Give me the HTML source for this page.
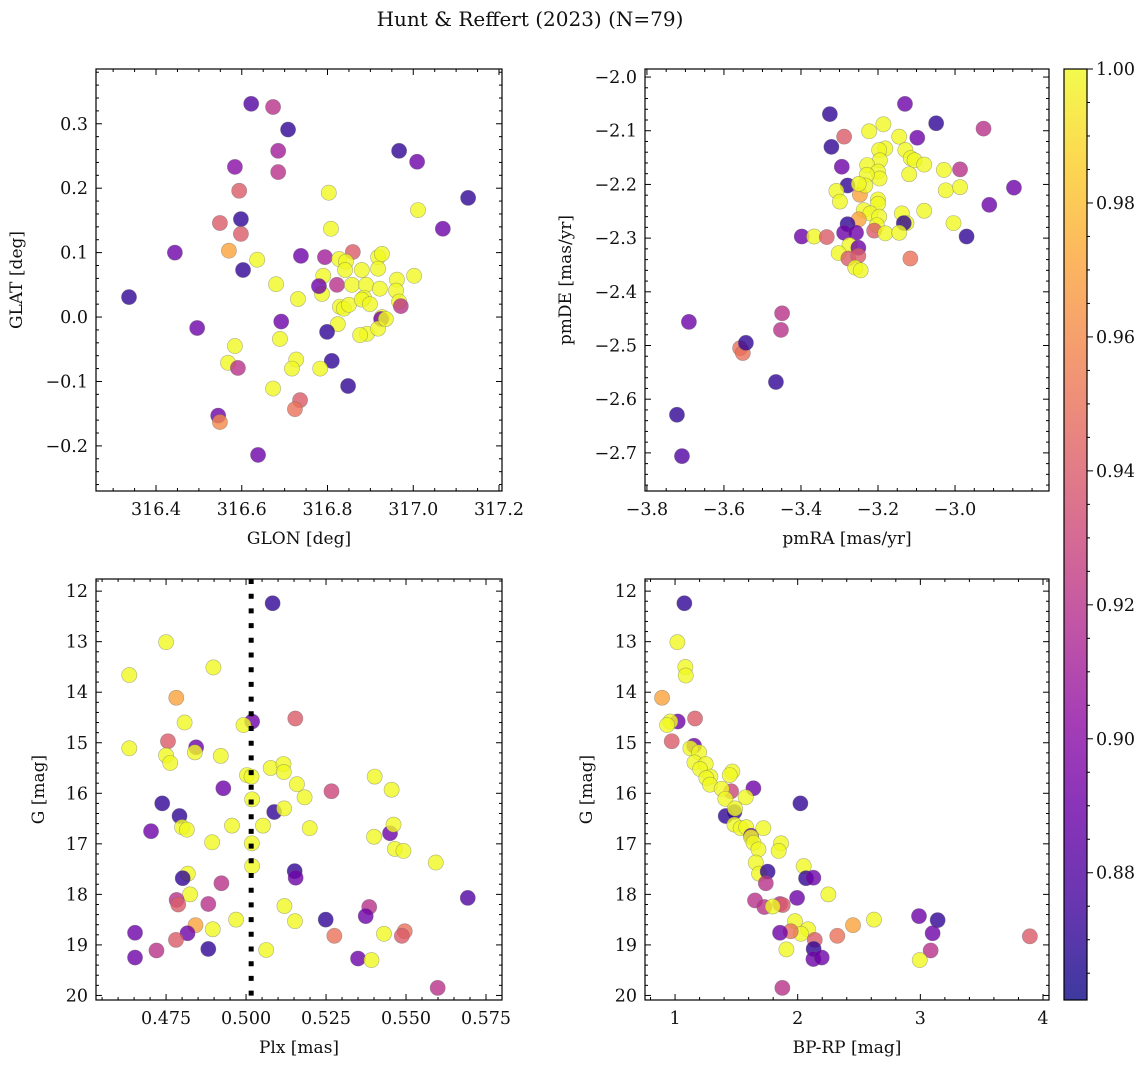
<!DOCTYPE html>
<html><head><meta charset="utf-8"><title>Hunt & Reffert (2023)</title>
<style>
body{margin:0;background:#fff;}
svg text{font-family:"DejaVu Serif","Liberation Serif",serif;fill:#111;}
</style></head>
<body>
<svg id="fig" width="1148" height="1068" viewBox="0 0 1148 1068" xmlns="http://www.w3.org/2000/svg">
<defs>
<linearGradient id="plasma" x1="0" y1="1" x2="0" y2="0">
<stop offset="0" stop-color="#0d0887"/><stop offset="0.1" stop-color="#41049d"/><stop offset="0.2" stop-color="#6a00a8"/><stop offset="0.3" stop-color="#8f0da4"/><stop offset="0.4" stop-color="#b12a90"/><stop offset="0.5" stop-color="#cc4778"/><stop offset="0.6" stop-color="#e16462"/><stop offset="0.7" stop-color="#f2844b"/><stop offset="0.8" stop-color="#fca636"/><stop offset="0.9" stop-color="#fcce25"/><stop offset="1" stop-color="#f0f921"/>
</linearGradient>
</defs>
<text x="530" y="26" font-size="20" text-anchor="middle">Hunt &amp; Reffert (2023) (N=79)</text>
</svg>
<script>
// ---- data: panel 1 (GLON/GLAT)
const glon = [316.337,316.444,316.496,316.622,316.673,316.584,316.685,316.594,316.685,316.708,316.549,316.598,316.598,316.570,316.603,316.636,316.738,316.680,316.692,316.731,316.689,316.584,316.568,316.591,316.727,316.717,316.673,316.736,316.724,316.545,316.549,316.638,316.967,317.009,317.128,317.069,317.011,316.803,316.808,316.859,316.794,316.827,316.843,316.841,316.880,316.790,316.822,316.857,316.890,316.918,316.927,316.918,316.962,317.002,316.787,316.780,316.885,316.922,316.960,316.829,316.838,316.850,316.880,316.899,316.927,316.892,316.967,316.971,316.925,316.824,316.799,316.876,316.918,316.936,316.810,316.783,316.848];
const glat = [0.031,0.100,-0.017,0.331,0.326,0.233,0.258,0.196,0.225,0.291,0.146,0.152,0.129,0.103,0.073,0.089,0.095,0.051,-0.007,0.028,-0.034,-0.045,-0.071,-0.079,-0.066,-0.080,-0.111,-0.129,-0.143,-0.153,-0.163,-0.214,0.258,0.241,0.185,0.137,0.166,0.193,0.137,0.101,0.093,0.090,0.086,0.073,0.073,0.064,0.050,0.050,0.050,0.093,0.098,0.075,0.058,0.064,0.036,0.048,0.030,0.044,0.041,0.016,0.013,0.019,0.027,0.020,0.000,-0.026,0.024,0.017,-0.003,-0.011,-0.023,-0.028,-0.018,-0.003,-0.068,-0.080,-0.107];
const prob1 = [0.87,0.89,0.89,0.88,0.92,0.90,0.91,0.94,0.92,0.87,0.94,0.87,0.94,0.97,0.87,1,0.89,1,0.89,1,1,1,1,0.92,1,1,1,0.94,0.95,0.89,0.96,0.89,0.87,0.89,0.87,0.89,1,1,1,0.94,0.91,1,1,1,1,1,0.92,1,1,1,1,1,1,1,1,0.89,1,1,1,1,1,1,1,1,1,1,1,0.92,0.89,1,0.87,1,1,1,0.87,1,0.87];
// ---- data: panel 2 (proper motions)
const pmra = [-3.325,-3.130,-3.049,-2.926,-3.288,-3.321,-3.098,-3.223,-3.186,-3.145,-3.129,-3.181,-3.197,-3.115,-3.105,-3.080,-3.294,-2.987,-3.029,-3.195,-3.228,-3.200,-3.196,-3.119,-3.229,-3.279,-3.308,-3.299,-3.247,-3.233,-3.250,-3.024,-2.987,-2.847,-2.911,-3.200,-3.200,-3.237,-3.220,-3.197,-3.080,-3.138,-3.126,-3.250,-3.133,-3.279,-3.004,-3.203,-3.210,-3.288,-3.257,-3.398,-3.366,-3.333,-3.181,-3.145,-2.970,-3.274,-3.251,-3.302,-3.277,-3.251,-3.259,-3.245,-3.116,-3.465,-3.722,-3.709,-3.691,-3.558,-3.551,-3.543,-3.449,-3.452];
const pmde = [-2.069,-2.050,-2.086,-2.096,-2.111,-2.130,-2.113,-2.101,-2.088,-2.111,-2.136,-2.133,-2.136,-2.151,-2.155,-2.163,-2.167,-2.172,-2.173,-2.155,-2.164,-2.176,-2.189,-2.181,-2.182,-2.202,-2.212,-2.232,-2.219,-2.202,-2.199,-2.211,-2.205,-2.206,-2.238,-2.228,-2.236,-2.248,-2.254,-2.260,-2.249,-2.254,-2.272,-2.265,-2.272,-2.274,-2.272,-2.276,-2.286,-2.290,-2.290,-2.297,-2.297,-2.298,-2.291,-2.290,-2.297,-2.313,-2.318,-2.328,-2.338,-2.333,-2.355,-2.360,-2.338,-2.568,-2.629,-2.706,-2.456,-2.505,-2.514,-2.495,-2.440,-2.471];
const prob2 = [0.87,0.89,0.87,0.92,0.94,0.87,0.89,1,1,1,1,1,1,1,1,1,0.89,0.92,1,1,1,1,1,1,1,0.87,1,1,0.97,1,1,1,1,0.89,0.89,1,1,1,1,1,1,1,1,0.97,0.87,0.87,1,1,0.94,0.89,0.89,0.89,1,0.94,1,1,0.87,1,0.89,1,0.94,0.94,1,1,0.95,0.87,0.87,0.88,0.89,0.95,0.95,0.87,0.92,0.92];
// ---- data: panel 3 (Plx vs G)
const plx = [0.5083,0.4750,0.4898,0.4635,0.4782,0.4808,0.5019,0.4992,0.5154,0.4756,0.4635,0.4844,0.4840,0.4750,0.4763,0.4921,0.5077,0.5117,0.5118,0.5003,0.5017,0.5159,0.5402,0.5183,0.5267,0.5455,0.4929,0.5019,0.4738,0.4792,0.5088,0.5119,0.4800,0.4815,0.4703,0.4956,0.5053,0.5199,0.5450,0.5461,0.5400,0.4894,0.5018,0.5465,0.5492,0.5593,0.5019,0.5152,0.5155,0.4818,0.4802,0.4923,0.4825,0.5693,0.4783,0.4788,0.4882,0.5120,0.5385,0.5374,0.5249,0.4969,0.5153,0.4842,0.4896,0.4653,0.4817,0.5276,0.5431,0.5496,0.5487,0.4781,0.4882,0.4720,0.5063,0.4653,0.5350,0.5392,0.5599];
const g3 = [12.24,13.01,13.51,13.66,14.11,14.60,14.58,14.65,14.52,14.97,15.11,15.09,15.19,15.25,15.40,15.26,15.50,15.42,15.58,15.64,15.67,15.82,15.67,16.08,15.96,15.93,15.90,16.12,16.20,16.45,16.37,16.30,16.67,16.72,16.75,16.64,16.64,16.69,16.79,16.62,16.86,16.97,16.99,17.10,17.14,17.37,17.44,17.54,17.67,17.59,17.68,17.78,18.00,18.07,18.11,18.20,18.19,18.23,18.25,18.43,18.50,18.50,18.53,18.61,18.69,18.76,18.77,18.82,18.78,18.73,18.82,18.90,19.08,19.11,19.10,19.25,19.27,19.30,19.85];
const prob3 = [0.87,1,1,1,0.97,1,0.89,1,0.94,0.94,1,0.89,1,1,1,1,1,1,1,1,1,1,1,1,0.93,1,0.89,1,0.87,0.87,0.87,1,1,1,0.89,1,1,1,0.89,1,1,1,1,1,1,1,1,0.87,0.89,1,0.87,0.92,1,0.88,0.92,0.94,0.92,1,0.92,0.89,0.87,1,1,0.97,1,0.89,0.89,0.95,1,0.95,0.94,0.94,0.87,0.92,1,0.89,0.89,1,0.92];
// ---- data: panel 4 (BP-RP vs G)
const bprp = [1.076,1.019,1.084,1.087,0.894,1.022,0.962,0.935,1.163,0.973,1.155,1.125,1.196,1.158,1.250,1.204,1.288,1.255,1.285,1.467,1.446,1.457,1.639,1.380,1.410,1.576,2.022,1.413,1.484,1.489,1.484,1.535,1.580,1.620,1.720,1.620,1.640,1.680,1.864,1.845,1.658,1.685,1.755,1.740,2.049,2.068,2.128,2.250,1.995,1.652,1.728,1.856,1.878,1.796,2.622,2.989,3.141,2.451,1.978,2.084,2.027,1.943,2.323,2.139,1.856,3.100,1.908,2.130,2.128,2.196,3.084,2.995,1.875,3.893];
const g4 = [12.24,13.01,13.50,13.67,14.11,14.58,14.58,14.65,14.52,14.97,15.06,15.11,15.19,15.39,15.42,15.52,15.67,15.70,15.83,15.57,15.64,15.96,15.90,15.91,16.11,16.08,16.20,16.45,16.37,16.30,16.62,16.69,16.67,16.84,16.69,16.87,16.98,17.11,16.99,17.14,17.37,17.59,17.55,17.78,17.44,17.68,17.67,18.00,18.07,18.12,18.25,18.19,18.21,18.24,18.50,18.43,18.51,18.61,18.53,18.69,18.78,18.73,18.82,18.90,18.76,18.77,19.09,19.08,19.28,19.25,19.11,19.30,19.85,18.83];
const prob4 = [0.87,1,1,1,0.97,0.89,1,1,0.94,0.94,0.89,1,1,1,1,1,1,1,1,1,1,0.93,0.89,1,1,1,0.87,0.87,0.87,1,1,1,1,0.89,1,1,1,1,1,1,1,1,0.87,0.92,1,0.87,0.89,1,0.89,0.92,0.92,0.92,0.94,1,1,0.89,0.87,0.97,1,1,1,0.95,0.95,0.94,0.89,0.89,1,0.87,0.89,0.89,0.92,1,0.92,0.94];
// ---- tick labels
const p1xTicks = [316.4,316.6,316.8,317.0,317.2];
const p1yTicks = [-0.2,-0.1,0.0,0.1,0.2,0.3];
const p2xTicks = [-3.8,-3.6,-3.4,-3.2,-3.0];
const p2yTicks = [-2.7,-2.6,-2.5,-2.4,-2.3,-2.2,-2.1,-2.0];
const p3xTicks = [0.475,0.500,0.525,0.550,0.575];
const gTicks = [12,13,14,15,16,17,18,19,20];
const p4xTicks = [1,2,3,4];
const cbTicks = [0.88,0.90,0.92,0.94,0.96,0.98,1.00];
const plxCut = [0.5016];

const NS = "http://www.w3.org/2000/svg";
const svg = document.getElementById('fig');
const VMIN = 0.861, VMAX = 1.0;
const TFS = 17.5, LFS = 17;
const stops = ["#0d0887","#41049d","#6a00a8","#8f0da4","#b12a90","#cc4778","#e16462","#f2844b","#fca636","#fcce25","#f0f921"];
function hex(h){return [parseInt(h.slice(1,3),16),parseInt(h.slice(3,5),16),parseInt(h.slice(5,7),16)];}
function plasma(v){
  let t=Math.max(0,Math.min(1,(v-VMIN)/(VMAX-VMIN)))*10;
  let i=Math.min(9,Math.floor(t)),f=t-i;
  const a=hex(stops[i]),b=hex(stops[i+1]);
  return `rgb(${a.map((c,k)=>Math.round(c+(b[k]-c)*f)).join(',')})`;
}
function mk(tag,attrs,parent){const e=document.createElementNS(NS,tag);for(const k in attrs)e.setAttribute(k,attrs[k]);(parent||svg).appendChild(e);return e;}
function fmt(v,d){const s=Math.abs(v).toFixed(d);return (v<-1e-9?"\u2212":"")+s;}

function panel(cfg){
  const g=mk('g',{});
  
  
  const sx=v=>cfg.x0+(v-cfg.xd[0])/(cfg.xd[1]-cfg.xd[0])*(cfg.x1-cfg.x0);
  const sy=cfg.invert? (v=>cfg.y0+(v-cfg.yd[0])/(cfg.yd[1]-cfg.yd[0])*(cfg.y1-cfg.y0))
                      : (v=>cfg.y1-(v-cfg.yd[0])/(cfg.yd[1]-cfg.yd[0])*(cfg.y1-cfg.y0));
  const pg=mk('g',{},g);
  
  
  for(let i=0;i<cfg.xs.length;i++){
    const c=mk('circle',{cx:sx(cfg.xs[i]),cy:sy(cfg.ys[i]),r:7.6,fill:plasma(cfg.ps[i]),'fill-opacity':0.8,stroke:'#666','stroke-opacity':0.5,'stroke-width':0.6},pg);
    
    
  }
  if(cfg.vline){
    const l=mk('line',{x1:sx(cfg.vline[0]),x2:sx(cfg.vline[0]),y1:cfg.y0,y2:cfg.y1,stroke:'#000','stroke-width':5,'stroke-dasharray':'5 9.7'},g);
    
    
  }
  const fr=mk('rect',{x:cfg.x0,y:cfg.y0,width:cfg.x1-cfg.x0,height:cfg.y1-cfg.y0,fill:'none',stroke:'#000','stroke-width':1.2},g);
  
  
  const xstep=cfg.xt[1]-cfg.xt[0], xm=xstep/cfg.xminor;
  for(let v=cfg.xt[0]-10*xstep; v<=cfg.xd[1]+1e-9; v+=xm){
    if(v<cfg.xd[0]-1e-9) continue;
    const X=sx(v); const major=cfg.xt.some(t=>Math.abs(t-v)<xm/10);
    const L=major?6:3;
    mk('line',{x1:X,x2:X,y1:cfg.y1,y2:cfg.y1-L,stroke:'#000','stroke-width':1},g);
    mk('line',{x1:X,x2:X,y1:cfg.y0,y2:cfg.y0+L,stroke:'#000','stroke-width':1},g);
  }
  cfg.xt.forEach(t=>{
    const tx=mk('text',{x:sx(t),y:cfg.y1+24,'font-size':TFS,'text-anchor':'middle'},g);
    tx.textContent=fmt(t,cfg.xdec);
    
    
  });
  const ystep=cfg.yt[1]-cfg.yt[0], ym=ystep/cfg.yminor;
  const ylo=Math.min(cfg.yd[0],cfg.yd[1]), yhi=Math.max(cfg.yd[0],cfg.yd[1]);
  for(let v=cfg.yt[0]-10*ystep; v<=yhi+1e-9; v+=ym){
    if(v<ylo-1e-9) continue;
    const Y=sy(v); const major=cfg.yt.some(t=>Math.abs(t-v)<ym/10);
    const L=major?6:3;
    mk('line',{x1:cfg.x0,x2:cfg.x0+L,y1:Y,y2:Y,stroke:'#000','stroke-width':1},g);
    mk('line',{x1:cfg.x1,x2:cfg.x1-L,y1:Y,y2:Y,stroke:'#000','stroke-width':1},g);
  }
  cfg.yt.forEach(t=>{
    const tx=mk('text',{x:cfg.x0-8,y:sy(t)+6,'font-size':TFS,'text-anchor':'end'},g);
    tx.textContent=fmt(t,cfg.ydec);
    
    
  });
  const xl=mk('text',{x:(cfg.x0+cfg.x1)/2,y:cfg.y1+53,'font-size':LFS,'text-anchor':'middle'},g);
  xl.textContent=cfg.xlabel;
  
  
  const yc=(cfg.y0+cfg.y1)/2;
  const yl=mk('text',{x:cfg.ylx,y:yc,'font-size':LFS,'text-anchor':'middle',transform:`rotate(-90 ${cfg.ylx} ${yc})`},g);
  yl.textContent=cfg.ylabel;
  
  
}

panel({name:'glon-glat-panel',x0:96,x1:502,y0:69,y1:491,xd:[316.26,317.207],yd:[-0.27,0.385],xs:glon,ys:glat,ps:prob1,xt:p1xTicks,yt:p1yTicks,xminor:4,yminor:5,xdec:1,ydec:1,xlabel:'GLON [deg]',ylabel:'GLAT [deg]',ylx:22});
panel({name:'proper-motion-panel',x0:645,x1:1049,y0:69,y1:491,xd:[-3.805,-2.756],yd:[-2.771,-1.985],xs:pmra,ys:pmde,ps:prob2,xt:p2xTicks,yt:p2yTicks,xminor:4,yminor:5,xdec:1,ydec:1,xlabel:'pmRA [mas/yr]',ylabel:'pmDE [mas/yr]',ylx:571});
panel({name:'plx-g-panel',x0:96,x1:502,y0:579,y1:1000,xd:[0.4531,0.580],yd:[11.76,20.09],invert:true,xs:plx,ys:g3,ps:prob3,xt:p3xTicks,yt:gTicks,xminor:5,yminor:5,xdec:3,ydec:0,xlabel:'Plx [mas]',ylabel:'G [mag]',ylx:44,vline:plxCut});
panel({name:'cmd-panel',x0:645,x1:1049,y0:579,y1:1000,xd:[0.755,4.049],yd:[11.76,20.09],invert:true,xs:bprp,ys:g4,ps:prob4,xt:p4xTicks,yt:gTicks,xminor:5,yminor:5,xdec:0,ydec:0,xlabel:'BP-RP [mag]',ylabel:'G [mag]',ylx:592});

// colorbar
const cb=mk('g',{});


const CX0=1064,CX1=1087,CY0=69,CY1=1000;
const cy=v=>CY1-(v-VMIN)/(VMAX-VMIN)*(CY1-CY0);
mk('rect',{x:CX0,y:CY0,width:CX1-CX0,height:CY1-CY0,fill:'url(#plasma)','fill-opacity':0.8},cb);
mk('rect',{x:CX0,y:CY0,width:CX1-CX0,height:CY1-CY0,fill:'none',stroke:'#000','stroke-width':1.2},cb);
for(let v=0.865; v<=1.0001; v+=0.005){
  const Y=cy(v); const major=cbTicks.some(t=>Math.abs(t-v)<0.001);
  mk('line',{x1:CX1,x2:CX1+(major?6:3),y1:Y,y2:Y,stroke:'#000','stroke-width':1},cb);
}
cbTicks.forEach(t=>{
  const tx=mk('text',{x:CX1+9,y:cy(t)+6,'font-size':TFS,'text-anchor':'start'},cb);
  tx.textContent=t.toFixed(2);
  
  
});
</script>
</body></html>
